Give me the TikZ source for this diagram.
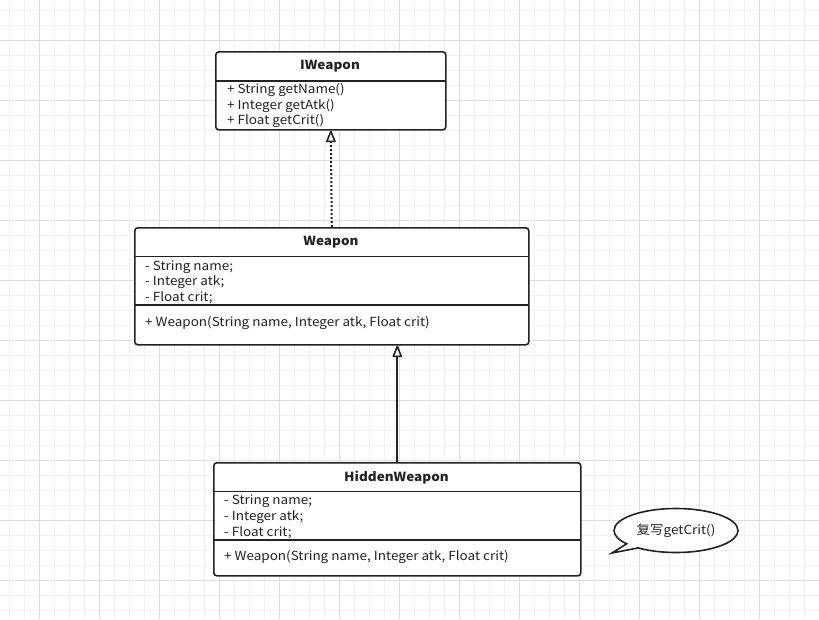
\documentclass[tikz,border=0pt]{standalone}
\usepackage{fontspec}
\setmainfont[FakeStretch=1.08]{Noto Sans CJK SC}
\usetikzlibrary{arrows.meta,shapes.callouts}
\definecolor{ink}{HTML}{222222}
\definecolor{gmaj}{HTML}{DEDEDE}
\definecolor{gmin}{HTML}{F1F1F1}
\begin{document}
\begin{tikzpicture}[x=1pt,y=-1pt,
  umlbox/.style={draw=ink, line width=1.6pt, rounded corners=3pt, anchor=north west, inner sep=0pt, fill=white},
  sep/.style={draw=ink, line width=1.6pt},
  ttl/.style={font=\fontsize{12.5}{14}\selectfont\bfseries, text=ink, inner sep=0pt},
  txt/.style={font=\fontsize{12.5}{14}\selectfont, text=ink, anchor=west, inner sep=0pt},
  realize/.style={draw=ink, line width=2pt, dash pattern=on 2pt off 2pt, -{Triangle[open, length=13pt, width=10pt, line width=1.6pt, round]}},
  inherit/.style={draw=ink, line width=2pt, -{Triangle[open, length=13pt, width=10pt, line width=1.6pt, round]}},
  note/.style={ellipse callout, draw=ink, line width=1.6pt, fill=white, minimum width=124pt, minimum height=44pt, inner sep=0pt, font=\fontsize{12.5}{14}\selectfont, text=ink}
]
\useasboundingbox (0,0) rectangle (819,619);
\fill[white] (0,0) rectangle (819,619);
% grid
\foreach \x in {9,24,...,819} \draw[gmin, line width=0.8pt] (\x,0) -- (\x,619);
\foreach \y in {10,25,...,619} \draw[gmin, line width=0.8pt] (0,\y) -- (819,\y);
\foreach \x in {39,99,...,819} \draw[gmaj, line width=0.8pt] (\x,0) -- (\x,619);
\foreach \y in {40,100,...,619} \draw[gmaj, line width=0.8pt] (0,\y) -- (819,\y);

% IWeapon
\node[umlbox, minimum width=230pt, minimum height=78pt] (iw) at (215,51) {};
\draw[sep] (215,81) -- (445,81);
\node[ttl] (iwt) at (330,66.5) {IWeapon};
\node[txt] (iw1) at (227,90) {+ String getName()};
\node[txt] (iw2) at (227,105.5) {+ Integer getAtk()};
\node[txt] (iw3) at (227,121) {+ Float getCrit()};

% Weapon
\node[umlbox, minimum width=394pt, minimum height=117pt] (w) at (134,227) {};
\draw[sep] (134,256.5) -- (528,256.5);
\draw[sep] (134,305) -- (528,305);
\node[ttl] (wt) at (331,242.5) {Weapon};
\node[txt] (w1) at (145,267) {- String name;};
\node[txt] (w2) at (145,282.5) {- Integer atk;};
\node[txt] (w3) at (145,298) {- Float crit;};
\node[txt] (w4) at (145,322.5) {+ Weapon(String name, Integer atk, Float crit)};

% HiddenWeapon
\node[umlbox, minimum width=367pt, minimum height=113pt] (hw) at (213,462) {};
\draw[sep] (213,491.5) -- (580,491.5);
\draw[sep] (213,540) -- (580,540);
\node[ttl] (hwt) at (396.5,477.5) {HiddenWeapon};
\node[txt] (h1) at (224,501.5) {- String name;};
\node[txt] (h2) at (224,517) {- Integer atk;};
\node[txt] (h3) at (224,533) {- Float crit;};
\node[txt] (h4) at (224,557) {+ Weapon(String name, Integer atk, Float crit)};

% connectors
\draw[realize] (w.north) -- (iw.south);
\draw[inherit] (hw.north) -- (hw.north |- w.south);

% note
\coordinate (tip) at (612,553);
\node[note, callout absolute pointer={(tip)}] (nt) at (676,530.5) {复写getCrit()};
\end{tikzpicture}
\end{document}
